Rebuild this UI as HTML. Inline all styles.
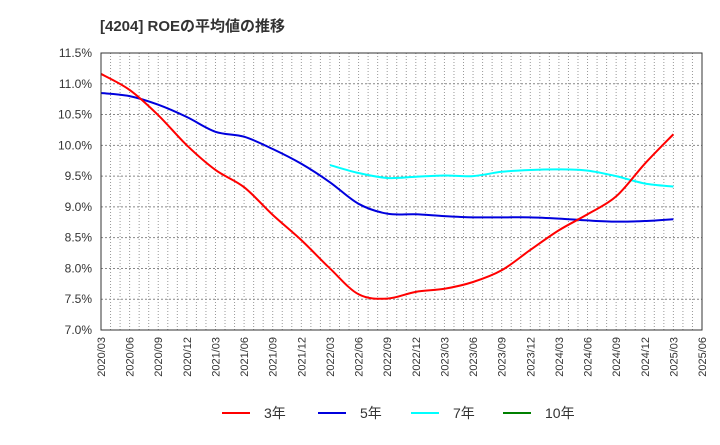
<!DOCTYPE html>
<html><head><meta charset="utf-8"><style>
body{margin:0;background:#fff;}
svg text{font-family:"Liberation Sans","Noto Sans CJK JP",sans-serif;fill:#333;}
</style></head><body>
<svg width="720" height="440" xmlns="http://www.w3.org/2000/svg">
<text x="100" y="31" font-size="15" font-weight="bold">[4204]  ROEの平均値の推移</text>
<g id="grid"></g>
<g id="yaxis"></g>
<g id="xaxis"></g>
<g id="series"></g>
<rect x="101" y="53" width="601" height="277" fill="none" stroke="#333" stroke-width="1"/>
<g id="legend"></g>
</svg>
<script>
const xLabels=["2020/03","2020/06","2020/09","2020/12","2021/03","2021/06","2021/09","2021/12","2022/03","2022/06","2022/09","2022/12","2023/03","2023/06","2023/09","2023/12","2024/03","2024/06","2024/09","2024/12","2025/03","2025/06"];
const yTicks=[7.0,7.5,8.0,8.5,9.0,9.5,10.0,10.5,11.0,11.5];
const s3=[11.16,10.9,10.49,10.0,9.6,9.32,8.87,8.46,8.0,7.58,7.51,7.62,7.67,7.78,7.97,8.3,8.62,8.88,9.17,9.7,10.18];
const s5=[10.85,10.8,10.66,10.46,10.22,10.14,9.94,9.7,9.4,9.05,8.89,8.88,8.85,8.83,8.83,8.83,8.81,8.78,8.76,8.77,8.8];
const s7=[9.68,9.55,9.47,9.49,9.51,9.5,9.57,9.6,9.61,9.59,9.5,9.38,9.33];
const s7Start=8;
const s10=[];
const NS="http://www.w3.org/2000/svg";
const X0=101,X1=702,Y0=330,Y1=53;
const step=(X1-X0)/21;
const xq=i=>X0+i*step;
const y=v=>Y0-(v-7.0)/(11.5-7.0)*(Y0-Y1);
function mk(t,a,p){const e=document.createElementNS(NS,t);for(const k in a)e.setAttribute(k,a[k]);p.appendChild(e);return e;}
const grid=document.getElementById('grid');
for(let m=1;m<63;m++){const x=X0+m*step/3;
const l=mk('line',{x1:x,x2:x,y1:Y1,y2:Y0,stroke:'#999','stroke-dasharray':'1,2','stroke-width':1},grid);

}
const ya=document.getElementById('yaxis');
yTicks.forEach(v=>{
if(v>7&&v<11.5){const l=mk('line',{x1:X0,x2:X1,y1:y(v),y2:y(v),stroke:'#888','stroke-dasharray':'2,2'},grid);

}
const t=mk('text',{x:92,y:y(v)+4,'text-anchor':'end','font-size':12},ya);t.textContent=v.toFixed(1)+'%';

});
const xa=document.getElementById('xaxis');
xLabels.forEach((s,i)=>{const x=xq(i);
const t=mk('text',{x:x+4,y:337,'text-anchor':'end','font-size':11,transform:`rotate(-90 ${x+4} 337)`},xa);t.textContent=s;

});
function path(vals,start){const p=vals.map((v,i)=>[xq(i+start),y(v)]);
let d=`M${p[0][0]},${p[0][1]}`;
for(let i=0;i<p.length-1;i++){const a=p[Math.max(0,i-1)],b=p[i],c=p[i+1],e=p[Math.min(p.length-1,i+2)];
d+=` C${b[0]+(c[0]-a[0])/6},${b[1]+(c[1]-a[1])/6} ${c[0]-(e[0]-b[0])/6},${c[1]-(e[1]-b[1])/6} ${c[0]},${c[1]}`;}
return d;}
const sg=document.getElementById('series');
[[s7,s7Start,'#00ffff','line-7yr'],[s5,0,'#0000dd','line-5yr'],[s3,0,'#ff0000','line-3yr'],[s10,0,'#008000','line-10yr']].forEach(([v,st,c,n])=>{
if(!v.length)return;
const p=mk('path',{d:path(v,st),fill:'none',stroke:c,'stroke-width':2},sg);

});
const lg=document.getElementById('legend');
[['3年','#ff0000',222],['5年','#0000dd',318],['7年','#00ffff',411],['10年','#008000',503]].forEach(([t,c,x])=>{
const g=mk('g',{},lg);


mk('line',{x1:x,x2:x+28,y1:413,y2:413,stroke:c,'stroke-width':2},g);
const tx=mk('text',{x:x+42,y:418,'font-size':14},g);tx.textContent=t;});
</script>
</body></html>
